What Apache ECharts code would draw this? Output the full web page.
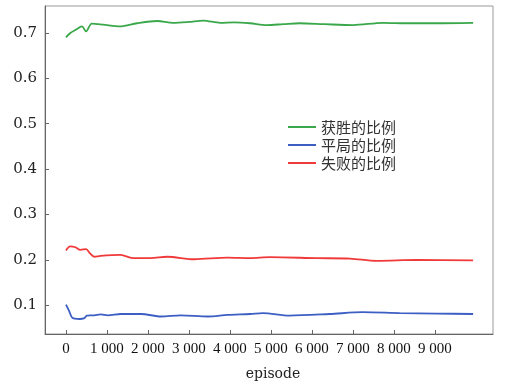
<!DOCTYPE html>
<html><head><meta charset="utf-8">
<script src="https://cdn.jsdelivr.net/npm/echarts@6/dist/echarts.min.js"></script>
<style>html,body{margin:0;padding:0;background:#fff}#c{width:505px;height:386px}</style>
</head><body><div id="c"></div>
<script>
const seriesNames = ['获胜的比例', '平局的比例', '失败的比例'];
const winX  = [0, 100, 230, 390, 490, 630, 900, 1320, 1730, 2220, 2610, 3000, 3350, 3760, 4100, 4490, 4900, 5300, 5700, 6300, 7000, 7730, 8300, 9000, 9930];
const winY  = [0.690, 0.699, 0.706, 0.714, 0.703, 0.720, 0.718, 0.714, 0.721, 0.726, 0.722, 0.724, 0.727, 0.722, 0.723, 0.721, 0.717, 0.719, 0.721, 0.719, 0.717, 0.722, 0.721, 0.721, 0.722];
const drawX = [0, 80, 160, 330, 450, 510, 690, 850, 1020, 1340, 1830, 2320, 2800, 3460, 3940, 4490, 4800, 5450, 6430, 7240, 8140, 9050, 9930];
const drawY = [0.1015, 0.087, 0.072, 0.070, 0.072, 0.0776, 0.078, 0.080, 0.078, 0.081, 0.081, 0.0755, 0.078, 0.0755, 0.079, 0.081, 0.083, 0.0776, 0.081, 0.085, 0.083, 0.082, 0.081];
const lossX = [0, 100, 230, 350, 490, 590, 690, 840, 1330, 1650, 2060, 2470, 3130, 3940, 4490, 4970, 6110, 6930, 7580, 8560, 9930];
const lossY = [0.221, 0.230, 0.228, 0.222, 0.224, 0.214, 0.207, 0.209, 0.211, 0.204, 0.204, 0.207, 0.2015, 0.205, 0.204, 0.206, 0.204, 0.203, 0.198, 0.200, 0.199];
const xTicks = [0, 1000, 2000, 3000, 4000, 5000, 6000, 7000, 8000, 9000];
const yTicks = [0.1, 0.2, 0.3, 0.4, 0.5, 0.6, 0.7];
const colors = ['#3aa84a', '#3d5fc4', '#f03a3a'];

const zip = (xs, ys) => xs.map((x, i) => [x, ys[i]]);
const chart = echarts.init(document.getElementById('c'), null, {renderer: 'canvas'});
const serif = '"Liberation Serif", "DejaVu Serif", serif';
const dserif = '"DejaVu Serif", serif';
chart.setOption({
  animation: false,
  backgroundColor: '#fff',
  grid: {left: 45, right: 12, top: 6, bottom: 48, show: true, borderColor: '#999', borderWidth: 1},
  legend: {
    orient: 'vertical', left: 283, top: 114, itemWidth: 28, itemHeight: 2, itemGap: 2, icon: 'rect',
    textStyle: {fontFamily: '"Noto Sans CJK SC", sans-serif', fontSize: 15, color: '#333', lineHeight: 16},
    data: seriesNames
  },
  xAxis: {
    type: 'value', min: -512, max: 10415,
    name: 'episode', nameLocation: 'middle', nameGap: 33,
    nameTextStyle: {fontFamily: dserif, fontSize: 14, color: '#222', padding: [0, 0, 0, 8]},
    axisLine: {show: true, onZero: false, lineStyle: {color: '#666'}},
    axisTick: {show: true, inside: true, length: 4, customValues: xTicks, lineStyle: {color: '#666'}},
    axisLabel: {customValues: xTicks, fontFamily: serif, fontSize: 15, color: '#111', margin: 8,
      formatter: v => v === 0 ? '0' : (v / 1000) + ' 000'},
    splitLine: {show: false}
  },
  yAxis: {
    type: 'value', min: 0.037, max: 0.759,
    axisLine: {show: true, onZero: false, lineStyle: {color: '#666'}},
    axisTick: {show: true, inside: true, length: 4, customValues: yTicks, lineStyle: {color: '#666'}},
    axisLabel: {customValues: yTicks, fontFamily: dserif, fontSize: 15, color: '#222', margin: 8,
      formatter: v => v.toFixed(1)},
    splitLine: {show: false}
  },
  series: [
    {name: seriesNames[0], type: 'line', symbol: 'none', smooth: 0.3, data: zip(winX, winY), lineStyle: {width: 1.8, color: colors[0]}, itemStyle: {color: colors[0]}},
    {name: seriesNames[1], type: 'line', symbol: 'none', smooth: 0.3, data: zip(drawX, drawY), lineStyle: {width: 1.8, color: colors[1]}, itemStyle: {color: colors[1]}},
    {name: seriesNames[2], type: 'line', symbol: 'none', smooth: 0.3, data: zip(lossX, lossY), lineStyle: {width: 1.8, color: colors[2]}, itemStyle: {color: colors[2]}}
  ]
});
</script></body></html>
